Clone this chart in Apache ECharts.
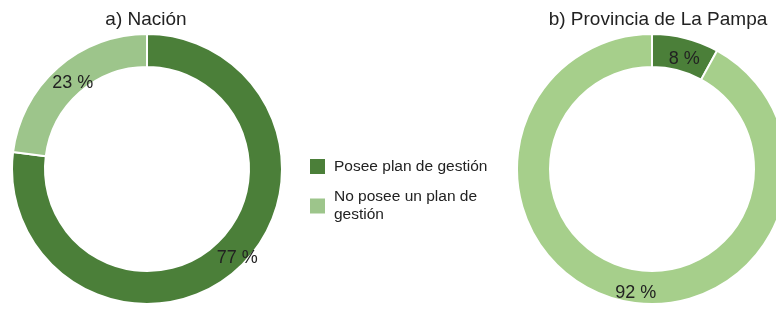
<!DOCTYPE html>
<html>
<head>
<meta charset="utf-8">
<script src="https://cdn.jsdelivr.net/npm/echarts@6/dist/echarts.min.js"></script>
<style>
  html, body { margin: 0; padding: 0; background: #fff; }
  #chart { width: 776px; height: 309px; }
</style>
</head>
<body>
<div id="chart"></div>
<script>
// categorías y valores (%)
const categories = ['Posee plan de gestión', 'No posee un plan de gestión']
const nacionValues = [77, 23]
const pampaValues = [8, 92]
const titles = ['a) Nación', 'b) Provincia de La Pampa']

const darkGreen = '#4b7f39'
const lightGreenA = '#9dc58b'
const lightGreenB = '#a6cf8b'
const font = 'Liberation Sans, Arial, sans-serif'

// desplazamiento de cada etiqueta respecto al centro del sector
const labelShift = {
  nacion: [[10, -2], [6, 5]],
  pampa: [[2, 8], [14, 6]]
}

const toData = (values, colors, shifts) =>
  categories.map((name, i) => ({
    name,
    value: values[i],
    itemStyle: { color: colors[i] },
    label: { offset: shifts[i] }
  }))

const pieBase = (center) => ({
  type: 'pie',
  center,
  radius: [102, 135],
  startAngle: 90,
  clockwise: true,
  avoidLabelOverlap: false,
  silent: true,
  itemStyle: { borderColor: '#fff', borderWidth: 2 },
  label: {
    show: true,
    position: 'inside',
    formatter: '{c} %',
    color: '#222',
    fontSize: 18,
    fontFamily: font
  },
  labelLine: { show: false }
})

const titleStyle = { fontSize: 19, fontWeight: 'normal', color: '#222', fontFamily: font }

const chart = echarts.init(document.getElementById('chart'))
chart.setOption({
  animation: false,
  color: [darkGreen, lightGreenA],
  title: [
    { text: titles[0], left: 141, top: 5, textAlign: 'center', textStyle: titleStyle },
    { text: titles[1], left: 653, top: 5, textAlign: 'center', textStyle: titleStyle }
  ],
  legend: {
    orient: 'vertical',
    left: 308,
    top: 157,
    padding: 0,
    itemWidth: 17,
    itemHeight: 17,
    itemGap: 12,
    icon: 'rect',
    data: categories,
    formatter: (name) => name === categories[1] ? 'No posee un plan de\ngestión' : name,
    textStyle: { fontSize: 15.5, color: '#222', fontFamily: font, lineHeight: 18, padding: [0, 0, 0, 3] }
  },
  series: [
    Object.assign(pieBase([147, 169]), {
      name: titles[0],
      data: toData(nacionValues, [darkGreen, lightGreenA], labelShift.nacion)
    }),
    Object.assign(pieBase([652, 169]), {
      name: titles[1],
      data: toData(pampaValues, [darkGreen, lightGreenB], labelShift.pampa)
    })
  ]
})
</script>
</body>
</html>
